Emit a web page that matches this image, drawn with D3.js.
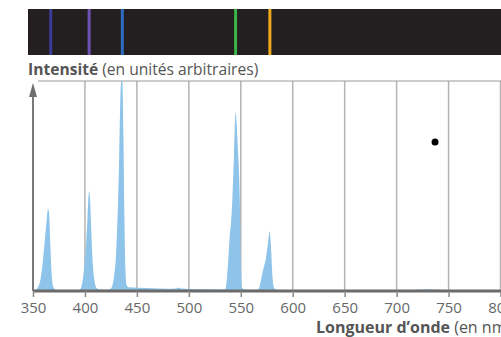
<!DOCTYPE html>
<html>
<head>
<meta charset="utf-8">
<script src="https://cdn.jsdelivr.net/npm/d3@7"></script>
<style>
  html, body { margin: 0; padding: 0; background: #fff; }
  svg { display: block; font-family: "Open Sans", sans-serif; }
</style>
</head>
<body>
<svg id="chart" width="501" height="337"></svg>
<script>
// wavelength (nm) and intensity (arbitrary, 0-100)
const wavelengths = [
  350, 353, 355, 357, 359, 361, 363, 364.5, 365.5, 366.5, 367.5, 368.5, 370, 372, 380,
  393, 395, 397, 399, 401, 402.5, 404, 405, 406, 407, 408, 409.5, 411, 413,
  422, 424, 426, 428, 430, 431, 432, 433, 434, 435, 436, 437, 438, 439, 440, 442,
  460, 480, 487, 490, 493, 500, 520, 532,
  535, 536.5, 538, 539.5, 540.5, 542, 543.5, 545, 546, 547, 548, 549, 550, 551, 553,
  565, 567, 569, 571, 572.5, 574, 576, 577.8, 578.6, 579.5, 580.5, 582, 584,
  600, 650, 700, 720, 730, 740, 800
];
const intensity = [
  0.4, 0.6, 2, 5, 12, 22, 33, 39, 37, 25, 12, 5, 1.5, 0.6, 0.4,
  0.4, 0.6, 3, 10, 22, 35, 47.5, 43, 30, 18, 10, 4, 1.5, 0.8,
  0.6, 0.8, 2, 7, 18, 30, 45, 65, 90, 100, 100, 75, 35, 10, 3, 1.8,
  1.4, 1.1, 1.2, 1.6, 1.2, 1, 0.8, 0.7,
  0.8, 5, 15, 27, 32, 45, 65, 85, 80, 70, 60, 45, 15, 2, 0.7,
  0.6, 0.8, 4, 9, 12, 15, 22, 28.6, 25, 17, 7, 1.5, 0.6,
  0.5, 0.5, 0.5, 0.6, 0.8, 0.6, 0.3
];
const xTicks = [350, 400, 450, 500, 550, 600, 650, 700, 750, 800];
const lineWavelengths = [367, 404, 436, 545, 578];
const lineColors = ["#3b3a96", "#6b52b3", "#2d6cc0", "#3db447", "#f2a81d"];
const dotPoint = [737, 71];

const svg = d3.select("#chart");
const x = d3.scaleLinear().domain([350, 800]).range([33, 500.5]);
const y = d3.scaleLinear().domain([0, 100]).range([291, 81]);

// emission line strip
svg.append("rect")
  .attr("x", 28).attr("y", 9)
  .attr("width", 480).attr("height", 46)
  .attr("fill", "#231f20");
svg.selectAll(".specline")
  .data(lineWavelengths)
  .enter().append("rect")
  .attr("class", "specline")
  .attr("x", d => x(d) - 1.5)
  .attr("y", 9)
  .attr("width", 3)
  .attr("height", 46)
  .attr("fill", (d, i) => lineColors[i]);

// y title
const yTitle = svg.append("text")
  .attr("x", 28).attr("y", 75)
  .attr("font-size", 15.6)
  .attr("fill", "#555");
yTitle.append("tspan").attr("font-weight", "bold").text("Intensité");
yTitle.append("tspan").text(" (en unités arbitraires)");

// grid
svg.selectAll(".grid")
  .data(xTicks.slice(1))
  .enter().append("line")
  .attr("class", "grid")
  .attr("x1", d => x(d)).attr("x2", d => x(d))
  .attr("y1", y(100)).attr("y2", y(0))
  .attr("stroke", "#b4b4b4")
  .attr("stroke-width", 1.5);
svg.append("line")
  .attr("x1", 38).attr("x2", 501)
  .attr("y1", y(100)).attr("y2", y(100))
  .attr("stroke", "#9a9a9a")
  .attr("stroke-width", 1.2);

// spectrum area
const pts = wavelengths.map((w, i) => [w, intensity[i]]);
const area = d3.area()
  .x(d => x(d[0]))
  .y0(y(0))
  .y1(d => y(d[1]))
  .curve(d3.curveMonotoneX);
svg.append("path")
  .datum(pts)
  .attr("d", area)
  .attr("fill", "#8fc4ea");

// x axis
const xAxis = svg.append("g")
  .attr("transform", `translate(0,${y(0)})`)
  .call(d3.axisBottom(x).tickValues(xTicks).tickSize(6).tickSizeOuter(0));
xAxis.select(".domain")
  .attr("d", `M${x(350)},0H501`)
  .attr("stroke", "#6b6b6b")
  .attr("stroke-width", 3);
xAxis.selectAll(".tick line").attr("stroke", "#8a8a8a").attr("stroke-width", 1.5);
xAxis.selectAll(".tick text")
  .attr("font-family", "Open Sans, sans-serif")
  .attr("font-size", 15)
  .attr("fill", "#686868")
  .attr("dy", "0.8em")
  .attr("y", 9.5);

// y axis with arrow
svg.append("line")
  .attr("x1", x(350)).attr("x2", x(350))
  .attr("y1", y(0)).attr("y2", 92)
  .attr("stroke", "#7a7a7a")
  .attr("stroke-width", 2);
svg.append("path")
  .attr("d", `M${x(350)},83L${x(350) - 4},97L${x(350) + 4},97Z`)
  .attr("fill", "#6e6e6e");

// x title
const xTitle = svg.append("text")
  .attr("x", 316).attr("y", 332.5)
  .attr("font-size", 16)
  .attr("fill", "#555");
xTitle.append("tspan").attr("font-weight", "bold").text("Longueur d’onde");
xTitle.append("tspan").text(" (en nm)");

// marker dot
svg.append("circle")
  .attr("cx", x(dotPoint[0])).attr("cy", y(dotPoint[1]))
  .attr("r", 3.5)
  .attr("fill", "#000");
</script>
</body>
</html>
